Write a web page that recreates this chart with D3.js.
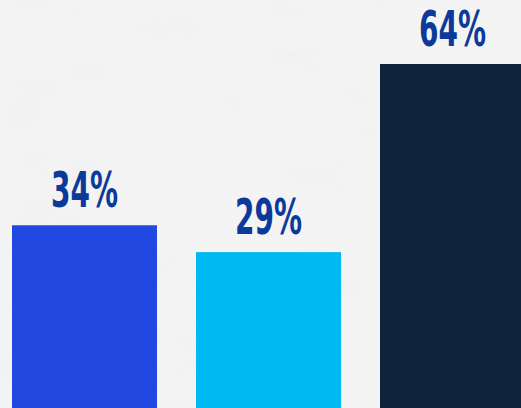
<!DOCTYPE html>
<html lang="en">
<head>
    <meta charset="UTF-8">
    <title>bars</title>
    <style>
        body { margin: 0; background: #f3f3f3; overflow: hidden; }
        svg { display: block; }
    </style>
</head>
<body>
<svg id="chart"></svg>

<script src="https://cdn.jsdelivr.net/npm/d3@7"></script>
<script>
    var width = 521;
    var height = 408;

    var categories = ["A", "B", "C"];
    var values = [34, 29, 64];
    var labels = ["34%", "29%", "64%"];
    var colors = ["#2149e1", "#00b9f3", "#0e233c"];

    var svg = d3.select("#chart")
        .attr("width", width)
        .attr("height", height);

    // marble-ish background
    var defs = svg.append("defs");
    var f = defs.append("filter").attr("id", "marble")
        .attr("x", 0).attr("y", 0).attr("width", "100%").attr("height", "100%");
    f.append("feTurbulence")
        .attr("type", "fractalNoise")
        .attr("baseFrequency", "0.012 0.02")
        .attr("numOctaves", 4)
        .attr("seed", 7);
    f.append("feColorMatrix")
        .attr("type", "matrix")
        .attr("values", "0 0 0 0 0.6  0 0 0 0 0.6  0 0 0 0 0.6  1.4 0 0 0 -0.72");

    svg.append("rect")
        .attr("width", width).attr("height", height)
        .attr("fill", "#f4f4f4");
    svg.append("rect")
        .attr("width", width).attr("height", height)
        .attr("filter", "url(#marble)")
        .attr("opacity", 0.18);

    var x = d3.scaleBand()
        .domain(categories)
        .range([12, 525])
        .paddingInner(0.212)
        .paddingOuter(0);

    // bars run off the bottom edge
    var y = d3.scaleLinear()
        .domain([0, 64])
        .range([height, 64]);

    svg.selectAll("rect.bar")
        .data(values)
        .enter()
        .append("rect")
        .attr("class", "bar")
        .attr("x", function(d, i) { return x(categories[i]); })
        .attr("y", function(d) { return y(d); })
        .attr("width", x.bandwidth())
        .attr("height", function(d) { return y(0) - y(d); })
        .attr("fill", function(d, i) { return colors[i]; });

    svg.selectAll("text.label")
        .data(values)
        .enter()
        .append("text")
        .attr("class", "label")
        .attr("x", function(d, i) { return x(categories[i]) + x.bandwidth() / 2; })
        .attr("y", function(d) { return y(d) - 18; })
        .attr("text-anchor", "middle")
        .attr("font-family", "'DejaVu Sans Condensed', 'DejaVu Sans', sans-serif")
        .attr("font-weight", "bold")
        .attr("font-size", 49)
        .attr("textLength", 67)
        .attr("lengthAdjust", "spacingAndGlyphs")
        .attr("fill", "#0b3a9a")
        .text(function(d, i) { return labels[i]; });
</script>
</body>
</html>
